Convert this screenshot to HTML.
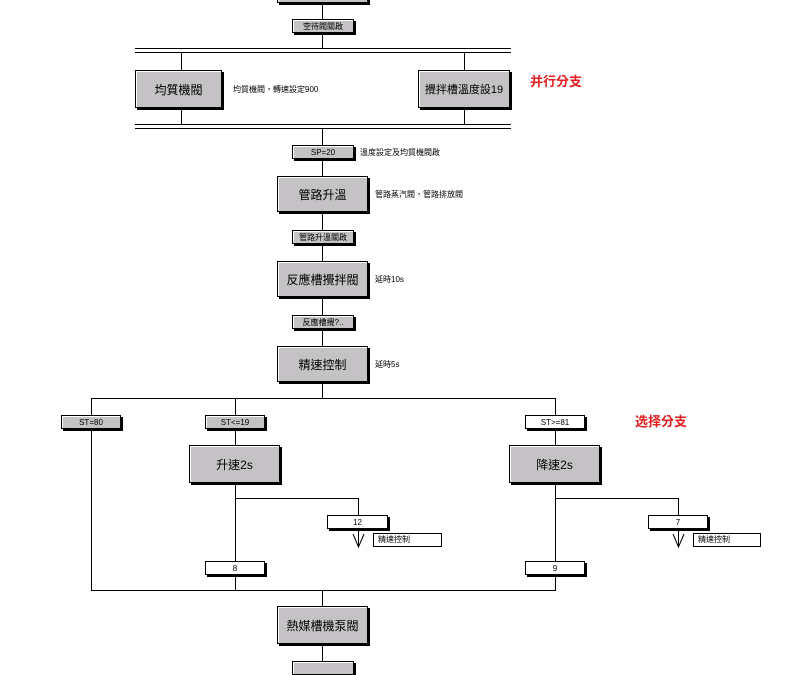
<!DOCTYPE html>
<html><head><meta charset="utf-8"><style>
body{margin:0;width:793px;height:665px;background:#fff;position:relative;overflow:hidden;font-family:"Liberation Sans","Noto Sans CJK TC","Noto Sans CJK SC",sans-serif;color:#000}
div{position:absolute;box-sizing:border-box}
.h{height:1px;background:#000}
.v{width:1px;background:#000}
.b{background:#c4c2c4;border:1px solid #000;box-shadow:inset 1px 1px 0 #fff,2px 2px 0 #000;display:flex;align-items:center;justify-content:center;font-size:12px}
.t{background:#c4c2c4;border:1px solid #000;box-shadow:inset 1px 1px 0 #fff,2px 2px 0 #000;display:flex;align-items:center;justify-content:center;font-size:8px;height:14px}
.w{background:#fff}
.l{font-size:8px;white-space:nowrap}
.r{color:#e02020;font-size:13px;font-weight:bold;white-space:nowrap}
svg{position:absolute}
</style></head><body>
<div class="v" style="left:322px;top:0;height:48px"></div>
<div class="v" style="left:322px;top:128px;height:270px"></div>
<div class="v" style="left:322px;top:590px;height:80px"></div>
<div class="b" style="left:277px;top:-10px;width:91px;height:13px"></div>
<div class="t" style="left:292px;top:19px;width:62px">空待閥關啟</div>
<div class="h" style="left:135px;top:48px;width:376px"></div>
<div class="h" style="left:135px;top:52px;width:376px"></div>
<div class="h" style="left:135px;top:124px;width:376px"></div>
<div class="h" style="left:135px;top:128px;width:376px"></div>
<div class="v" style="left:181px;top:52px;height:72px"></div>
<div class="v" style="left:464px;top:52px;height:72px"></div>
<div class="b" style="left:135px;top:70px;width:87px;height:38px">均質機閥</div>
<div class="l" style="left:233px;top:84px">均質機閥，轉速設定900</div>
<div class="b" style="left:418px;top:70px;width:92px;height:38px;font-size:11px">攪拌槽溫度設19</div>
<div class="r" style="left:530px;top:71px">并行分支</div>
<div class="t" style="left:292px;top:145px;width:62px">SP=20</div>
<div class="l" style="left:360px;top:147px">溫度設定及均質機閥啟</div>
<div class="b" style="left:277px;top:176px;width:91px;height:36px">管路升溫</div>
<div class="l" style="left:375px;top:189px">管路蒸汽閥，管路排放閥</div>
<div class="t" style="left:292px;top:230px;width:62px">管路升溫關啟</div>
<div class="b" style="left:277px;top:261px;width:91px;height:36px">反應槽攪拌閥</div>
<div class="l" style="left:375px;top:274px">延時10s</div>
<div class="t" style="left:292px;top:315px;width:62px">反應槽攪?..</div>
<div class="b" style="left:277px;top:346px;width:91px;height:36px">精速控制</div>
<div class="l" style="left:375px;top:359px">延時5s</div>
<div class="h" style="left:91px;top:398px;width:465px"></div>
<div class="v" style="left:91px;top:398px;height:192px"></div>
<div class="v" style="left:235px;top:398px;height:163px"></div>
<div class="v" style="left:555px;top:398px;height:163px"></div>
<div class="v" style="left:555px;top:575px;height:15px"></div>
<div class="v" style="left:235px;top:575px;height:15px"></div>
<div class="h" style="left:91px;top:590px;width:465px"></div>
<div class="t" style="left:61px;top:415px;width:60px">ST=80</div>
<div class="t" style="left:205px;top:415px;width:60px">ST<=19</div>
<div class="t w" style="left:525px;top:415px;width:60px">ST>=81</div>
<div class="r" style="left:635px;top:411px">选择分支</div>
<div class="b" style="left:189px;top:445px;width:91px;height:38px">升速2s</div>
<div class="b" style="left:509px;top:445px;width:91px;height:38px">降速2s</div>
<div class="h" style="left:235px;top:498px;width:124px"></div>
<div class="v" style="left:358px;top:498px;height:17px"></div>
<div class="t w" style="left:327px;top:515px;width:61px">12</div>
<svg style="left:350px;top:529px" width="17" height="20"><path d="M8.5 0V18M3 5L8.5 18L14 5" stroke="#000" fill="none"/></svg>
<div class="l" style="left:373px;top:533px;width:69px;height:14px;border:1px solid #000;padding-left:4px;line-height:12px">精速控制</div>
<div class="h" style="left:555px;top:498px;width:124px"></div>
<div class="v" style="left:678px;top:498px;height:17px"></div>
<div class="t w" style="left:648px;top:515px;width:60px">7</div>
<svg style="left:670px;top:529px" width="17" height="20"><path d="M8.5 0V18M3 5L8.5 18L14 5" stroke="#000" fill="none"/></svg>
<div class="l" style="left:693px;top:533px;width:68px;height:14px;border:1px solid #000;padding-left:4px;line-height:12px">精速控制</div>
<div class="t w" style="left:205px;top:561px;width:60px">8</div>
<div class="t w" style="left:525px;top:561px;width:60px">9</div>
<div class="b" style="left:277px;top:606px;width:91px;height:38px">熱媒槽機泵閥</div>
<div class="t" style="left:292px;top:661px;width:62px"></div>
</body></html>
